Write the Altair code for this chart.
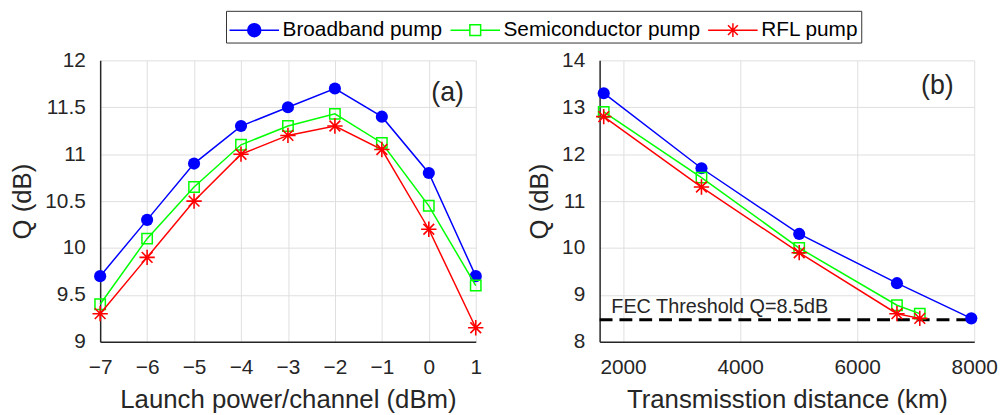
import altair as alt
import pandas as pd

FONT = "Liberation Sans"
TXT = "#262626"

series_names = ["Broadband pump", "Semiconductor pump", "RFL pump"]
series_colors = ["#0000ff", "#00ff00", "#ff0000"]

# Panel (a)
power = [-7, -6, -5, -4, -3, -2, -1, 0, 1]
a_broadband = [9.7, 10.3, 10.9, 11.3, 11.5, 11.7, 11.4, 10.8, 9.7]
a_semi = [9.4, 10.1, 10.65, 11.1, 11.3, 11.43, 11.12, 10.45, 9.6]
a_rfl = [9.3, 9.9, 10.5, 11.0, 11.2, 11.3, 11.05, 10.2, 9.15]

# Panel (b)
dist_broadband = [1670, 3340, 5010, 6680, 7950]
dist_semi = [1670, 3340, 5010, 6680, 7070]
dist_rfl = [1670, 3340, 5010, 6680, 7070]
b_broadband = [13.3, 11.7, 10.3, 9.25, 8.5]
b_semi = [12.9, 11.5, 10.0, 8.78, 8.6]
b_rfl = [12.8, 11.3, 9.9, 8.6, 8.5]

fec_x = [1600, 7950]
fec_q = [8.47, 8.47]
fec_label = "FEC Threshold Q=8.5dB"

a_xticks = [-7, -6, -5, -4, -3, -2, -1, 0, 1]
a_yticks = [9, 9.5, 10, 10.5, 11, 11.5, 12]
b_xticks = [2000, 4000, 6000, 8000]
b_yticks = [8, 9, 10, 11, 12, 13, 14]

ASTERISK = "M-1,0L1,0M0,-1L0,1M-0.7,-0.7L0.7,0.7M-0.7,0.7L0.7,-0.7"
legend_paths = [
    "M-1.56,0L1.56,0M0.41,0A0.41,0.41 0 1,1 -0.41,0A0.41,0.41 0 1,1 0.41,0Z",
    "M-1.56,0L-0.34,0M0.34,0L1.56,0M-0.34,-0.34L0.34,-0.34L0.34,0.34L-0.34,0.34Z",
    "M-1.56,0L1.56,0M0,-0.44L0,0.44M-0.31,-0.31L0.31,0.31M-0.31,0.31L0.31,-0.31",
]
legend_fills = ["#0000ff", "transparent", "transparent"]


def long_df(xs_list, qs_list):
    rows = []
    for name, xs, qs in zip(series_names, xs_list, qs_list):
        for x, q in zip(xs, qs):
            rows.append({"series": name, "x": x, "q": q})
    return pd.DataFrame(rows)


df_a = long_df([power, power, power], [a_broadband, a_semi, a_rfl])
df_b = long_df([dist_broadband, dist_semi, dist_rfl], [b_broadband, b_semi, b_rfl])


def series_layers(df, xenc, yenc):
    layers = []
    marker_styles = [
        dict(shape="circle", filled=True, size=150, color=series_colors[0]),
        dict(shape="square", filled=False, size=110, color=series_colors[1], strokeWidth=1.5),
        dict(shape=ASTERISK, filled=False, size=240, color=series_colors[2], strokeWidth=1.6),
    ]
    for name, col, ms in zip(series_names, series_colors, marker_styles):
        base = alt.Chart(df).transform_filter(alt.datum.series == name)
        layers.append(base.mark_line(color=col, strokeWidth=1.5).encode(x=xenc, y=yenc))
        layers.append(base.mark_point(opacity=1, **ms).encode(x=xenc, y=yenc))
    return layers


def legend_layer(df, xenc, yenc):
    return alt.Chart(df).mark_point(opacity=0, strokeWidth=1.5).encode(
        x=xenc, y=yenc,
        shape=alt.Shape("series:N", scale=alt.Scale(domain=series_names, range=legend_paths),
                        legend=alt.Legend(title=None)),
        stroke=alt.Stroke("series:N", scale=alt.Scale(domain=series_names, range=series_colors),
                          legend=alt.Legend(title=None)),
        fill=alt.Fill("series:N", scale=alt.Scale(domain=series_names, range=legend_fills),
                      legend=alt.Legend(title=None)),
    )


# ---- panel (a)
xa = alt.X("x:Q", title="Launch power/channel (dBm)",
           scale=alt.Scale(domain=[-7, 1], nice=False),
           axis=alt.Axis(values=a_xticks, format="d"))
ya = alt.Y("q:Q", title="Q (dB)",
           scale=alt.Scale(domain=[9, 12], nice=False, zero=False),
           axis=alt.Axis(values=a_yticks, format="~g"))

label_a = alt.Chart(pd.DataFrame({"x": [0.4], "q": [11.65], "t": ["(a)"]})).mark_text(
    font=FONT, fontSize=27, color=TXT, align="center", baseline="middle"
).encode(x="x:Q", y="q:Q", text="t:N")

panel_a = alt.layer(
    *series_layers(df_a, xa, ya), legend_layer(df_a, xa, ya), label_a
).properties(width=379, height=284)

# ---- panel (b)
xb = alt.X("x:Q", title="Transmisstion distance (km)",
           scale=alt.Scale(domain=[1600, 8000], nice=False),
           axis=alt.Axis(values=b_xticks, format="d"))
yb = alt.Y("q:Q", title="Q (dB)",
           scale=alt.Scale(domain=[8, 14], nice=False, zero=False),
           axis=alt.Axis(values=b_yticks, format="d"))

fec_df = pd.DataFrame({"x": fec_x, "q": fec_q})
fec_line = alt.Chart(fec_df).mark_line(color="black", strokeWidth=3, strokeDash=[13, 7]).encode(
    x="x:Q", y="q:Q")
fec_text = alt.Chart(pd.DataFrame({"x": [1800], "q": [8.61], "t": [fec_label]})).mark_text(
    font=FONT, fontSize=20, color=TXT, align="left", baseline="alphabetic"
).encode(x="x:Q", y="q:Q", text="t:N")
label_b = alt.Chart(pd.DataFrame({"x": [7370], "q": [13.46], "t": ["(b)"]})).mark_text(
    font=FONT, fontSize=27, color=TXT, align="center", baseline="middle"
).encode(x="x:Q", y="q:Q", text="t:N")

panel_b = alt.layer(
    fec_line, *series_layers(df_b, xb, yb), fec_text, label_b
).properties(width=378, height=284)

chart = alt.hconcat(panel_a, panel_b, spacing=125, bounds="flush").properties(
    padding={"left": 2, "top": 0, "right": 0, "bottom": 2}
).configure_view(stroke=None).configure_axis(
    labelFont=FONT, labelFontSize=21, labelColor=TXT, labelFlush=False,
    titleFont=FONT, titleFontSize=26, titleFontWeight="normal", titleColor=TXT,
    domainColor=TXT, domainWidth=1.5, gridColor="#dfdfdf", gridWidth=1,
    ticks=False, labelPadding=15, titlePadding=9,
).configure_legend(
    orient="none", legendX=127, legendY=-50, direction="horizontal",
    labelFont=FONT, labelFontSize=21, labelColor="black", labelLimit=0,
    symbolSize=1024, symbolOffset=9.5, labelOffset=11.5,
    symbolStrokeWidth=1.5, symbolOpacity=1, columnPadding=4,
    padding=2, strokeColor="#333333", fillColor="white", cornerRadius=0,
)

chart.save("out.html", embed_options={"renderer": "svg", "actions": False})
